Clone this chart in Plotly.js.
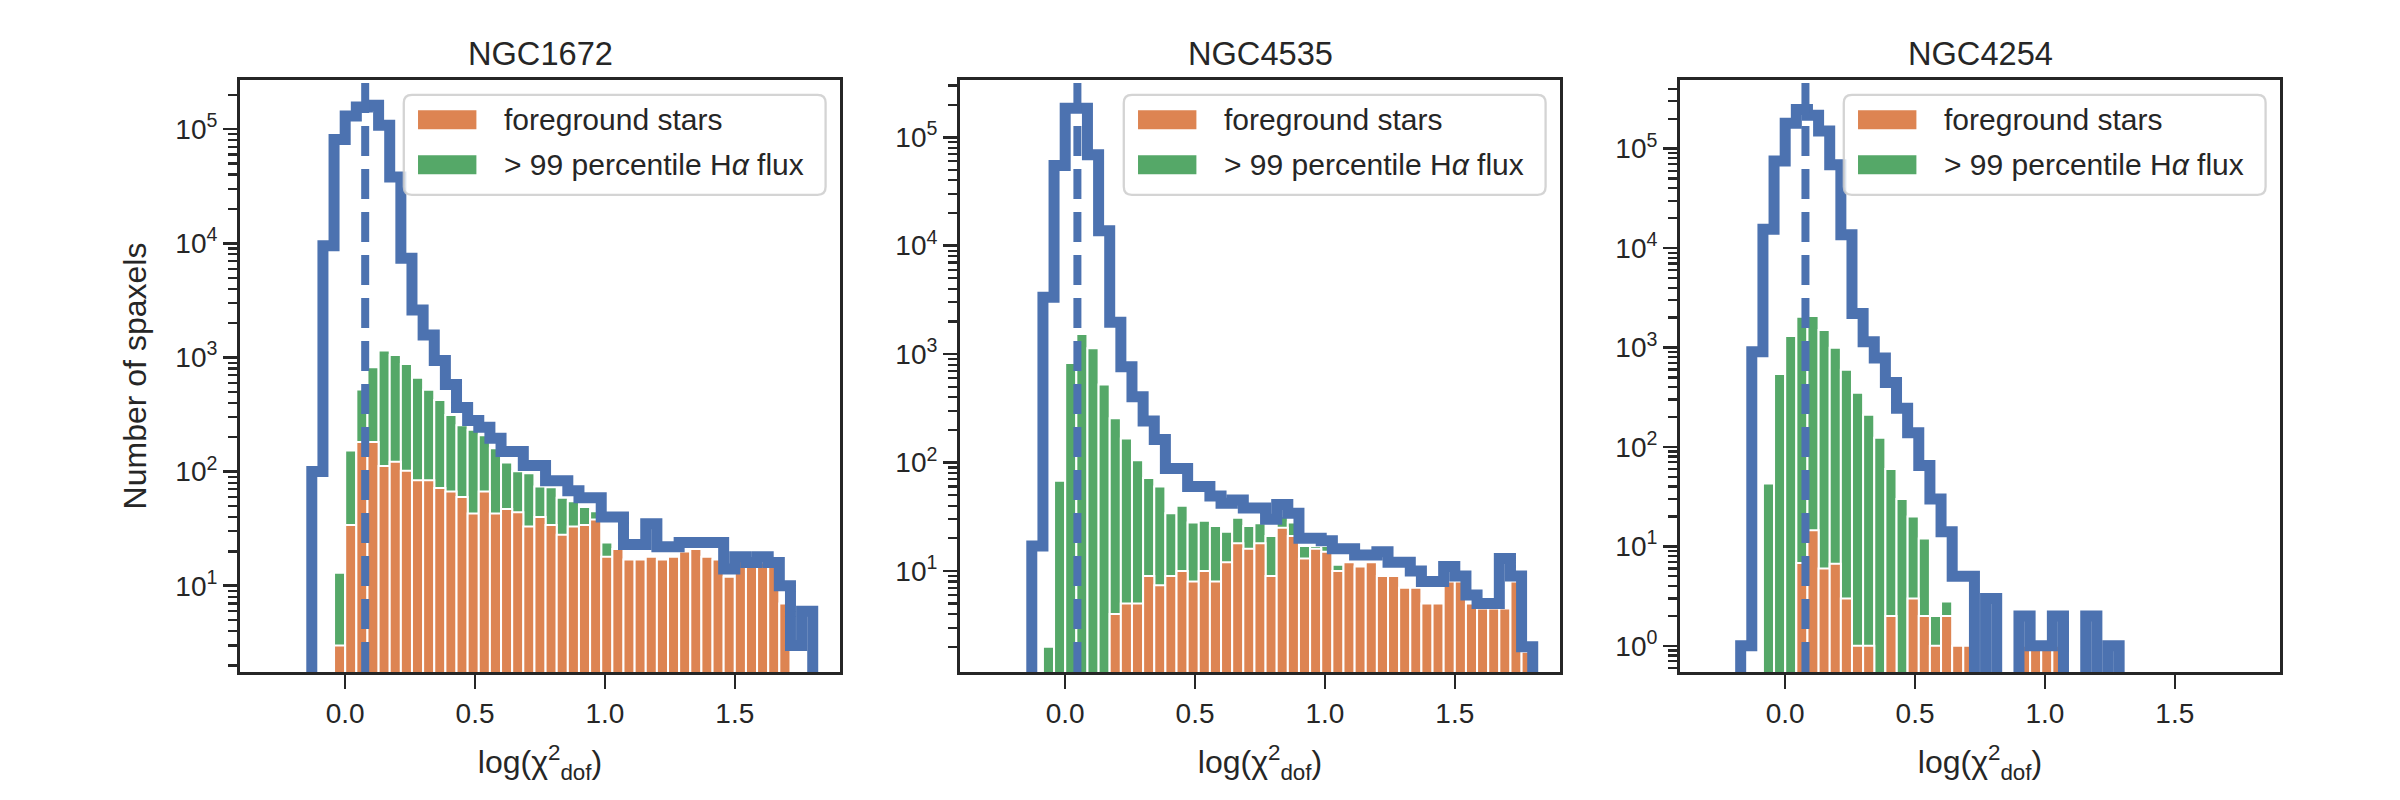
<!DOCTYPE html>
<html>
<head>
<meta charset="utf-8">
<script src="https://cdn.plot.ly/plotly-3.0.1.min.js"></script>
<style>
  html, body { margin: 0; padding: 0; background: #ffffff; }
  #chart { width: 2400px; height: 800px; }
</style>
</head>
<body>
<div id="chart"></div>
<script>
// ---------------- DATA ----------------
// Common histogram bin edges of log(chi2_dof): 49 bins from -0.3 to 1.8
const binEdges = [-0.3, -0.2571, -0.2143, -0.1714, -0.1286, -0.0857, -0.0429, 0.0,
  0.0429, 0.0857, 0.1286, 0.1714, 0.2143, 0.2571, 0.3, 0.3429, 0.3857, 0.4286,
  0.4714, 0.5143, 0.5571, 0.6, 0.6429, 0.6857, 0.7286, 0.7714, 0.8143, 0.8571,
  0.9, 0.9429, 0.9857, 1.0286, 1.0714, 1.1143, 1.1571, 1.2, 1.2429, 1.2857,
  1.3286, 1.3714, 1.4143, 1.4571, 1.5, 1.5429, 1.5857, 1.6286, 1.6714, 1.7143,
  1.7571, 1.8];

const galaxyNames = ['NGC1672', 'NGC4535', 'NGC4254'];

// All spaxels (blue step histogram)
const allNGC1672 = [0, 0, 0, 0, 100, 9500, 81000, 130000, 156000, 162000, 108000,
  38000, 7400, 2600, 1570, 940, 580, 365, 280, 245, 196, 150, 150, 113, 113, 83,
  83, 68, 59, 59, 40, 40, 23, 23, 35, 22, 22, 24, 24, 24, 24, 14, 18, 16, 18, 16,
  10, 3, 6];
const allNGC4535 = [0, 0, 0, 0, 17, 3350, 55000, 185000, 185000, 69000, 13700,
  1970, 764, 405, 241, 163, 88, 88, 60, 60, 49, 42, 45, 38, 38, 30, 41, 34, 20,
  20, 19, 16, 16, 14, 14, 15, 12, 12, 10, 8, 8, 11, 9, 6, 5, 5, 13, 9, 2];
const allNGC4254 = [0, 0, 0, 1, 904, 15500, 75000, 180000, 248000, 217000, 150000,
  69000, 13600, 2200, 1140, 783, 444, 245, 139, 65, 30, 14, 5, 5, 0, 3, 0, 0, 2,
  1, 1, 2, 0, 0, 2, 0, 1, 0, 0, 0, 0, 0, 0, 0, 0, 0, 0, 0, 0];

// Foreground stars (orange bars)
const starsNGC1672 = [0, 0, 0, 0, 0, 0, 3, 34, 182, 182, 112, 122, 102, 84, 84,
  72, 67, 60, 43, 67, 43, 47, 44, 33, 40, 34, 28, 33, 34, 38, 18, 21, 17, 17, 18,
  17, 18, 20, 21, 18, 17, 12, 17, 15, 16, 15, 7, 0, 0];
const starsNGC4535 = [0, 0, 0, 0, 0, 0, 0, 0, 0, 0, 0, 4, 5, 5, 9, 7.4, 9, 10, 8,
  10, 8, 12, 18, 16, 18, 9, 25, 21, 13, 16, 15, 10, 12, 11, 12, 9, 9, 7, 7, 5, 5,
  8, 8, 5, 4.5, 4.5, 4.5, 8, 1.8];
const starsNGC4254 = [0, 0, 0, 0, 0, 0, 0, 0, 6.8, 14.5, 6, 6.7, 3, 1, 1, 0, 2, 0,
  3, 2, 1, 2, 1, 1, 0, 0, 0, 0, 1, 1, 1, 1, 0, 0, 0, 0, 0, 0, 0, 0, 0, 0, 0, 0, 0,
  0, 0, 0, 0];

// > 99 percentile H-alpha flux (green bars, visible top)
const haNGC1672 = [0, 0, 0, 0, 0, 0, 13, 153, 525, 822, 1150, 1050, 877, 665, 521,
  425, 313, 255, 233, 208, 160, 120, 101, 97, 74, 73, 59, 55, 49, 45, 24, 0, 0, 0,
  0, 0, 0, 0, 0, 0, 0, 0, 0, 0, 0, 0, 0, 0, 0];
const haNGC4535 = [0, 0, 0, 0, 0, 2, 68, 826, 1530, 1130, 525, 256, 167, 105, 72,
  60, 34, 40, 28, 29, 26, 23, 31, 26, 27.5, 21, 32, 28, 17, 17, 17, 11.4, 0, 0, 0,
  0, 0, 0, 0, 0, 0, 0, 0, 0, 0, 0, 0, 0, 0];
const haNGC4254 = [0, 0, 0, 0, 0, 43, 542, 1306, 2037, 2076, 1504, 993, 596, 351,
  211, 124, 60, 30, 20, 12, 2, 2.8, 0, 0, 0, 0, 0, 0, 0, 0, 0, 0, 0, 0, 0, 0, 0, 0,
  0, 0, 0, 0, 0, 0, 0, 0, 0, 0, 0];

// Vertical dashed reference line per galaxy
const chi2Median = [0.077, 0.047, 0.078];

// Tick labels
const xTickVals = [0, 0.5, 1.0, 1.5];
const xTickText = ['0.0', '0.5', '1.0', '1.5'];
const yTickVals = [1, 10, 100, 1000, 10000, 100000];
const yTickText = ['10<sup>0</sup>', '10<sup>1</sup>', '10<sup>2</sup>',
  '10<sup>3</sup>', '10<sup>4</sup>', '10<sup>5</sup>'];

const legendLabels = ['foreground stars', '> 99 percentile H<i>α</i> flux'];

// ---------------- STYLE ----------------
const FONT = '"Liberation Sans", Arial, Helvetica, sans-serif';
const INK = '#262626';
const C_BLUE = '#4c72b0', C_ORANGE = '#dd8452', C_GREEN = '#55a868';

const panels = [
  {all: allNGC1672, stars: starsNGC1672, ha: haNGC1672, dom: [0.1, 0.35], yr: [0.245, 5.43]},
  {all: allNGC4535, stars: starsNGC4535, ha: haNGC4535, dom: [0.4, 0.65], yr: [0.068, 5.528]},
  {all: allNGC4254, stars: starsNGC4254, ha: haNGC4254, dom: [0.7, 0.95], yr: [-0.263, 5.69]}
];

const centers = binEdges.slice(0, -1).map((e, i) => (e + binEdges[i + 1]) / 2);
const widths = binEdges.slice(0, -1).map((e, i) => binEdges[i + 1] - e);
const nz = v => (v > 0 ? v : null);
const FLOOR = 1e-3; // empty bins drop below the visible log range (clipped)

// minor log ticks 2..9 x 10^n
const minorVals = [];
for (let p = -1; p <= 5; p++) for (let m = 2; m <= 9; m++) minorVals.push(m * Math.pow(10, p));

const traces = [];
const shapes = [];
const annotations = [];
const layout = {
  width: 2400, height: 800,
  margin: {l: 0, r: 0, t: 0, b: 0},
  paper_bgcolor: '#ffffff', plot_bgcolor: '#ffffff',
  barmode: 'overlay', showlegend: false,
  font: {family: FONT, color: INK}
};

panels.forEach((p, i) => {
  const s = i === 0 ? '' : String(i + 1);
  const xa = 'x' + s, ya = 'y' + s;

  traces.push({
    type: 'bar', x: centers, y: p.ha.map(nz), width: widths,
    xaxis: xa, yaxis: ya, name: legendLabels[1],
    marker: {color: C_GREEN, line: {color: '#ffffff', width: 2}},
    hoverinfo: 'x+y'
  });
  traces.push({
    type: 'bar', x: centers, y: p.stars.map(nz), width: widths,
    xaxis: xa, yaxis: ya, name: legendLabels[0],
    marker: {color: C_ORANGE, line: {color: '#ffffff', width: 2}},
    hoverinfo: 'x+y'
  });
  const stepX = [binEdges[0]].concat(binEdges);
  const stepY = [FLOOR].concat(p.all.map(v => (v > 0 ? v : FLOOR))).concat([FLOOR]);
  traces.push({
    type: 'scatter', mode: 'lines', x: stepX, y: stepY,
    xaxis: xa, yaxis: ya, name: 'all spaxels',
    line: {color: C_BLUE, width: 11, shape: 'hv'},
    hoverinfo: 'skip'
  });

  layout['xaxis' + s] = {
    domain: p.dom, anchor: ya, range: [-0.405, 1.905],
    showline: true, linecolor: INK, linewidth: 3, mirror: true,
    ticks: 'outside', ticklen: 14, tickwidth: 2.6, tickcolor: INK,
    tickmode: 'array', tickvals: xTickVals, ticktext: xTickText,
    tickfont: {size: 28, family: FONT, color: INK},
    showgrid: false, zeroline: false, automargin: false,
    title: {text: 'log(χ<sup>2</sup><sub>dof</sub>)', font: {size: 32, family: FONT, color: INK}, standoff: 24}
  };
  const yax = {
    domain: [0.16, 0.9], anchor: xa, type: 'log', range: p.yr,
    showline: true, linecolor: INK, linewidth: 3, mirror: true,
    ticks: 'outside', ticklen: 14, tickwidth: 2.6, tickcolor: INK,
    tickmode: 'array', tickvals: yTickVals, ticktext: yTickText,
    tickfont: {size: 28, family: FONT, color: INK},
    minor: {tickmode: 'array', tickvals: minorVals, ticks: 'outside', ticklen: 9, tickwidth: 2.2, tickcolor: INK, showgrid: false},
    showgrid: false, zeroline: false, automargin: false
  };
  if (i === 0) {
    yax.title = {text: 'Number of spaxels', font: {size: 32, family: FONT, color: INK}, standoff: 20};
  }
  layout['yaxis' + s] = yax;

  const xd = xa + ' domain', yd = ya + ' domain';
  // dashed reference line
  shapes.push({
    type: 'line', xref: xa, yref: yd, x0: chi2Median[i], x1: chi2Median[i], y0: 0, y1: 1,
    line: {color: C_BLUE, width: 8, dash: '30px,13px'}, layer: 'above'
  });
  // legend frame (rounded)
  const x0 = 0.273, x1 = 0.976, y0 = 0.806, y1 = 0.975, rx = 8 / 600, ry = 8 / 592;
  shapes.push({
    type: 'path', xref: xd, yref: yd, layer: 'above',
    path: `M ${x0 + rx},${y0} L ${x1 - rx},${y0} Q ${x1},${y0} ${x1},${y0 + ry} L ${x1},${y1 - ry} Q ${x1},${y1} ${x1 - rx},${y1} L ${x0 + rx},${y1} Q ${x0},${y1} ${x0},${y1 - ry} L ${x0},${y0 + ry} Q ${x0},${y0} ${x0 + rx},${y0} Z`,
    fillcolor: 'rgba(255,255,255,0.8)', line: {color: 'rgba(204,204,204,0.85)', width: 2.3}
  });
  shapes.push({type: 'rect', xref: xd, yref: yd, layer: 'above', x0: 0.2967, x1: 0.394, y0: 0.917, y1: 0.949,
    fillcolor: C_ORANGE, line: {width: 0}});
  shapes.push({type: 'rect', xref: xd, yref: yd, layer: 'above', x0: 0.2967, x1: 0.394, y0: 0.841, y1: 0.873,
    fillcolor: C_GREEN, line: {width: 0}});
  annotations.push({xref: xd, yref: yd, x: 0.437, y: 0.933, xanchor: 'left', yanchor: 'middle',
    text: legendLabels[0], showarrow: false, font: {size: 30, family: FONT, color: INK}});
  annotations.push({xref: xd, yref: yd, x: 0.437, y: 0.857, xanchor: 'left', yanchor: 'middle',
    text: legendLabels[1], showarrow: false, font: {size: 30, family: FONT, color: INK}});
  // panel title
  annotations.push({xref: xd, yref: yd, x: 0.5, y: 1, xanchor: 'center', yanchor: 'middle', yshift: 26,
    text: galaxyNames[i], showarrow: false, font: {size: 32.6, family: FONT, color: INK}});
});

layout.shapes = shapes;
layout.annotations = annotations;

Plotly.newPlot('chart', traces, layout, {staticPlot: true, displayModeBar: false});
</script>
</body>
</html>
